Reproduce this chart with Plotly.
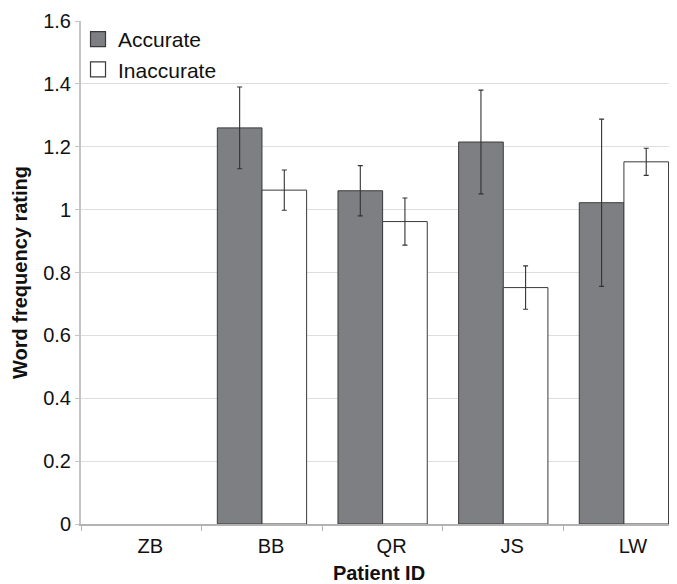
import plotly.graph_objects as go

categories = ["ZB", "BB", "QR", "JS", "LW"]
accurate = [None, 1.26, 1.06, 1.215, 1.022]
accurate_err = [None, 0.13, 0.08, 0.165, 0.266]
inaccurate = [None, 1.062, 0.962, 0.752, 1.152]
inaccurate_err = [None, 0.064, 0.075, 0.069, 0.043]
y_ticks = [0, 0.2, 0.4, 0.6, 0.8, 1, 1.2, 1.4, 1.6]
y_tick_labels = ["0", "0.2", "0.4", "0.6", "0.8", "1", "1.2", "1.4", "1.6"]

FONT = "Liberation Sans, Arial, Helvetica, sans-serif"
DARK = "#7e7f82"
EDGE = "#3a3a3a"

fig = go.Figure()
fig.add_trace(go.Bar(
    name="Accurate", x=categories, y=accurate, showlegend=False,
    marker=dict(color=DARK, line=dict(color=EDGE, width=1)),
    error_y=dict(type="data", array=accurate_err, visible=True,
                 color="#333333", thickness=1.1, width=2.5),
))
fig.add_trace(go.Bar(
    name="Inaccurate", x=categories, y=inaccurate, showlegend=False,
    marker=dict(color="#ffffff", line=dict(color=EDGE, width=1)),
    error_y=dict(type="data", array=inaccurate_err, visible=True,
                 color="#333333", thickness=1.1, width=2.5),
))
# legend entries (square swatches)
for name, col in [("Accurate", DARK), ("Inaccurate", "#ffffff")]:
    fig.add_trace(go.Scatter(
        name=name, x=[None], y=[None], mode="markers",
        marker=dict(symbol="square", size=15, color=col, line=dict(color=EDGE, width=1.2)),
        showlegend=True,
    ))

fig.update_layout(
    width=669, height=576,
    margin=dict(l=73, r=0, t=13, b=60, autoexpand=False),
    paper_bgcolor="white", plot_bgcolor="white",
    barmode="group", bargap=0.26, bargroupgap=0,
    font=dict(family=FONT, color="#111111"),
    showlegend=True,
    legend=dict(x=-0.005, y=1.004, xanchor="left", yanchor="top",
                font=dict(size=21, family=FONT, color="#111111"),
                bgcolor="rgba(0,0,0,0)", tracegroupgap=0,
                itemwidth=30),
)
fig.update_xaxes(
    range=[-0.5, 4.44],
    showline=True, linecolor="#b3b3b3", linewidth=1.5,
    ticks="outside", tickson="boundaries", ticklen=5, tickcolor="#b3b3b3",
    tickfont=dict(size=20, family=FONT, color="#111111"),
    ticklabelshift=9, ticklabelstandoff=3,
    showgrid=False,
    title=dict(text="<b>Patient ID</b>", font=dict(size=20, family=FONT, color="#111111"),
               standoff=14),
)
fig.update_yaxes(
    range=[0, 1.6],
    tickvals=y_ticks, ticktext=y_tick_labels,
    showline=True, linecolor="#c4c4c4", linewidth=2,
    ticks="outside", ticklen=4, tickcolor="#c4c4c4",
    tickfont=dict(size=20, family=FONT, color="#111111"),
    showgrid=True, gridcolor="#dedede", gridwidth=1,
    zeroline=False,
    title=dict(text="<b>Word frequency rating</b>", font=dict(size=20, family=FONT, color="#111111"),
               standoff=10),
)

fig.write_html("out.html")
